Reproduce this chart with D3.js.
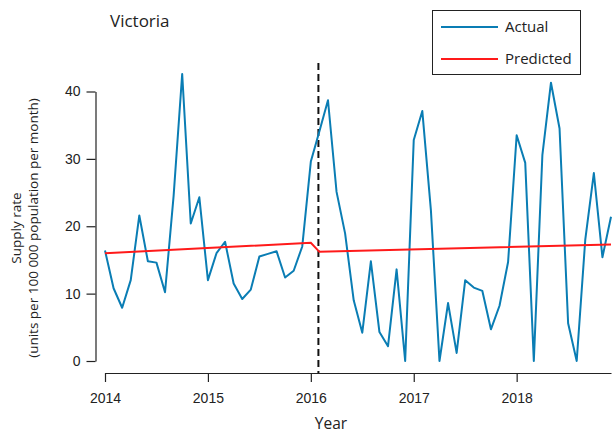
<!DOCTYPE html>
<html>
<head>
<meta charset="utf-8">
<script src="https://cdn.jsdelivr.net/npm/d3@7"></script>
<style>
  html, body { margin: 0; padding: 0; background: #fff; }
  svg { display: block; font-family: "Open Sans", "Noto Sans", sans-serif; }
</style>
</head>
<body>
<div id="chart"></div>
<script>
// Victoria – monthly supply rate, actual vs predicted (interrupted time series)

const years = [2014, 2015, 2016, 2017, 2018];
const yTicks = [0, 10, 20, 30, 40];

// monthly values Jan 2014 – Dec 2018
const actual = [
  16.4, 10.8, 7.9, 12.0, 21.6, 14.8, 14.6, 10.2, 24.5, 42.6, 20.4, 24.3,
  12.0, 16.0, 17.7, 11.5, 9.2, 10.6, 15.5, 15.9, 16.3, 12.4, 13.4, 17.0,
  29.6, 34.1, 38.7, 25.1, 18.9, 9.0, 4.2, 14.8, 4.3, 2.2, 13.6, 0.0,
  32.8, 37.1, 22.4, 0.0, 8.6, 1.2, 12.0, 10.9, 10.4, 4.7, 8.2, 14.7,
  33.5, 29.4, 0.0, 30.6, 41.3, 34.5, 5.6, 0.0, 18.0, 27.9, 15.4, 21.4
];

// predicted trend segments (month index from Jan 2014, value)
const predictedMonths = [0, 24, 25, 59];
const predictedValues = [16.0, 17.55, 16.2, 17.3];

const interventionMonth = 25; // Feb 2016

const width = 612;
const height = 435;

const svg = d3.select("#chart")
  .append("svg")
  .attr("width", width)
  .attr("height", height);

const toYear = m => 2014 + m / 12;

const x = d3.scaleLinear()
  .domain([2014, toYear(59)])
  .range([105, 611]);

const y = d3.scaleLinear()
  .domain([0, 40])
  .range([361, 91.5]);

// Axes
const yAxis = svg.append("g")
  .attr("transform", "translate(95.5,0)")
  .call(d3.axisLeft(y).tickValues(yTicks).tickSize(9).tickSizeOuter(0).tickPadding(6));
yAxis.select(".domain").attr("stroke", "#222").attr("stroke-width", 1.2);
yAxis.selectAll(".tick line").attr("stroke", "#222").attr("stroke-width", 1.2);
yAxis.selectAll("text")
  .style("font-size", "14px")
  .attr("fill", "#222");

const xAxis = svg.append("g")
  .attr("transform", "translate(0,373)")
  .call(d3.axisBottom(x).tickValues(years).tickFormat(d3.format("d"))
    .tickSize(9).tickSizeOuter(0).tickPadding(11));
xAxis.select(".domain").attr("stroke", "#222").attr("stroke-width", 1.2);
xAxis.selectAll(".tick line").attr("stroke", "#222").attr("stroke-width", 1.2);
xAxis.selectAll("text")
  .style("font-size", "14px")
  .attr("fill", "#222");

// Axis titles
svg.append("text")
  .attr("x", 331)
  .attr("y", 429)
  .attr("text-anchor", "middle")
  .style("font-size", "15.5px")
  .attr("fill", "#222")
  .text("Year");

const yTitle = svg.append("text")
  .attr("transform", "translate(0,228) rotate(-90)")
  .attr("text-anchor", "middle")
  .style("font-size", "13.5px")
  .attr("fill", "#222");
yTitle.append("tspan").attr("x", 0).attr("y", 21).text("Supply rate");
yTitle.append("tspan").attr("x", 0).attr("y", 38).text("(units per 100 000 population per month)");

// Intervention line
svg.append("line")
  .attr("x1", x(toYear(interventionMonth)) - 1)
  .attr("x2", x(toYear(interventionMonth)) - 1)
  .attr("y1", 63)
  .attr("y2", 373)
  .attr("stroke", "#111")
  .attr("stroke-width", 2)
  .attr("stroke-dasharray", "7 4");

// Actual series
const line = d3.line()
  .x(d => x(d[0]))
  .y(d => y(d[1]));

svg.append("path")
  .datum(actual.map((v, i) => [toYear(i), v]))
  .attr("fill", "none")
  .attr("stroke", "#0a7db4")
  .attr("stroke-width", 2)
  .attr("stroke-linejoin", "round")
  .attr("d", line);

// Predicted series
svg.append("path")
  .datum(predictedMonths.map((m, i) => [toYear(m), predictedValues[i]]))
  .attr("fill", "none")
  .attr("stroke", "#ff1a1a")
  .attr("stroke-width", 2)
  .attr("d", line);

// Title
svg.append("text")
  .attr("x", 110)
  .attr("y", 27)
  .style("font-size", "17px")
  .attr("fill", "#222")
  .text("Victoria");

// Legend
const legend = svg.append("g");
legend.append("rect")
  .attr("x", 432.5)
  .attr("y", 10.5)
  .attr("width", 148)
  .attr("height", 64)
  .attr("fill", "#fff")
  .attr("stroke", "#222")
  .attr("stroke-width", 1);

const legendItems = [
  { label: "Actual", color: "#0a7db4", y: 27 },
  { label: "Predicted", color: "#ff1a1a", y: 59 }
];
legendItems.forEach(d => {
  legend.append("line")
    .attr("x1", 441).attr("x2", 498)
    .attr("y1", d.y).attr("y2", d.y)
    .attr("stroke", d.color)
    .attr("stroke-width", 2);
  legend.append("text")
    .attr("x", 505)
    .attr("y", d.y + 5)
    .style("font-size", "15px")
    .attr("fill", "#222")
    .text(d.label);
});
</script>
</body>
</html>
